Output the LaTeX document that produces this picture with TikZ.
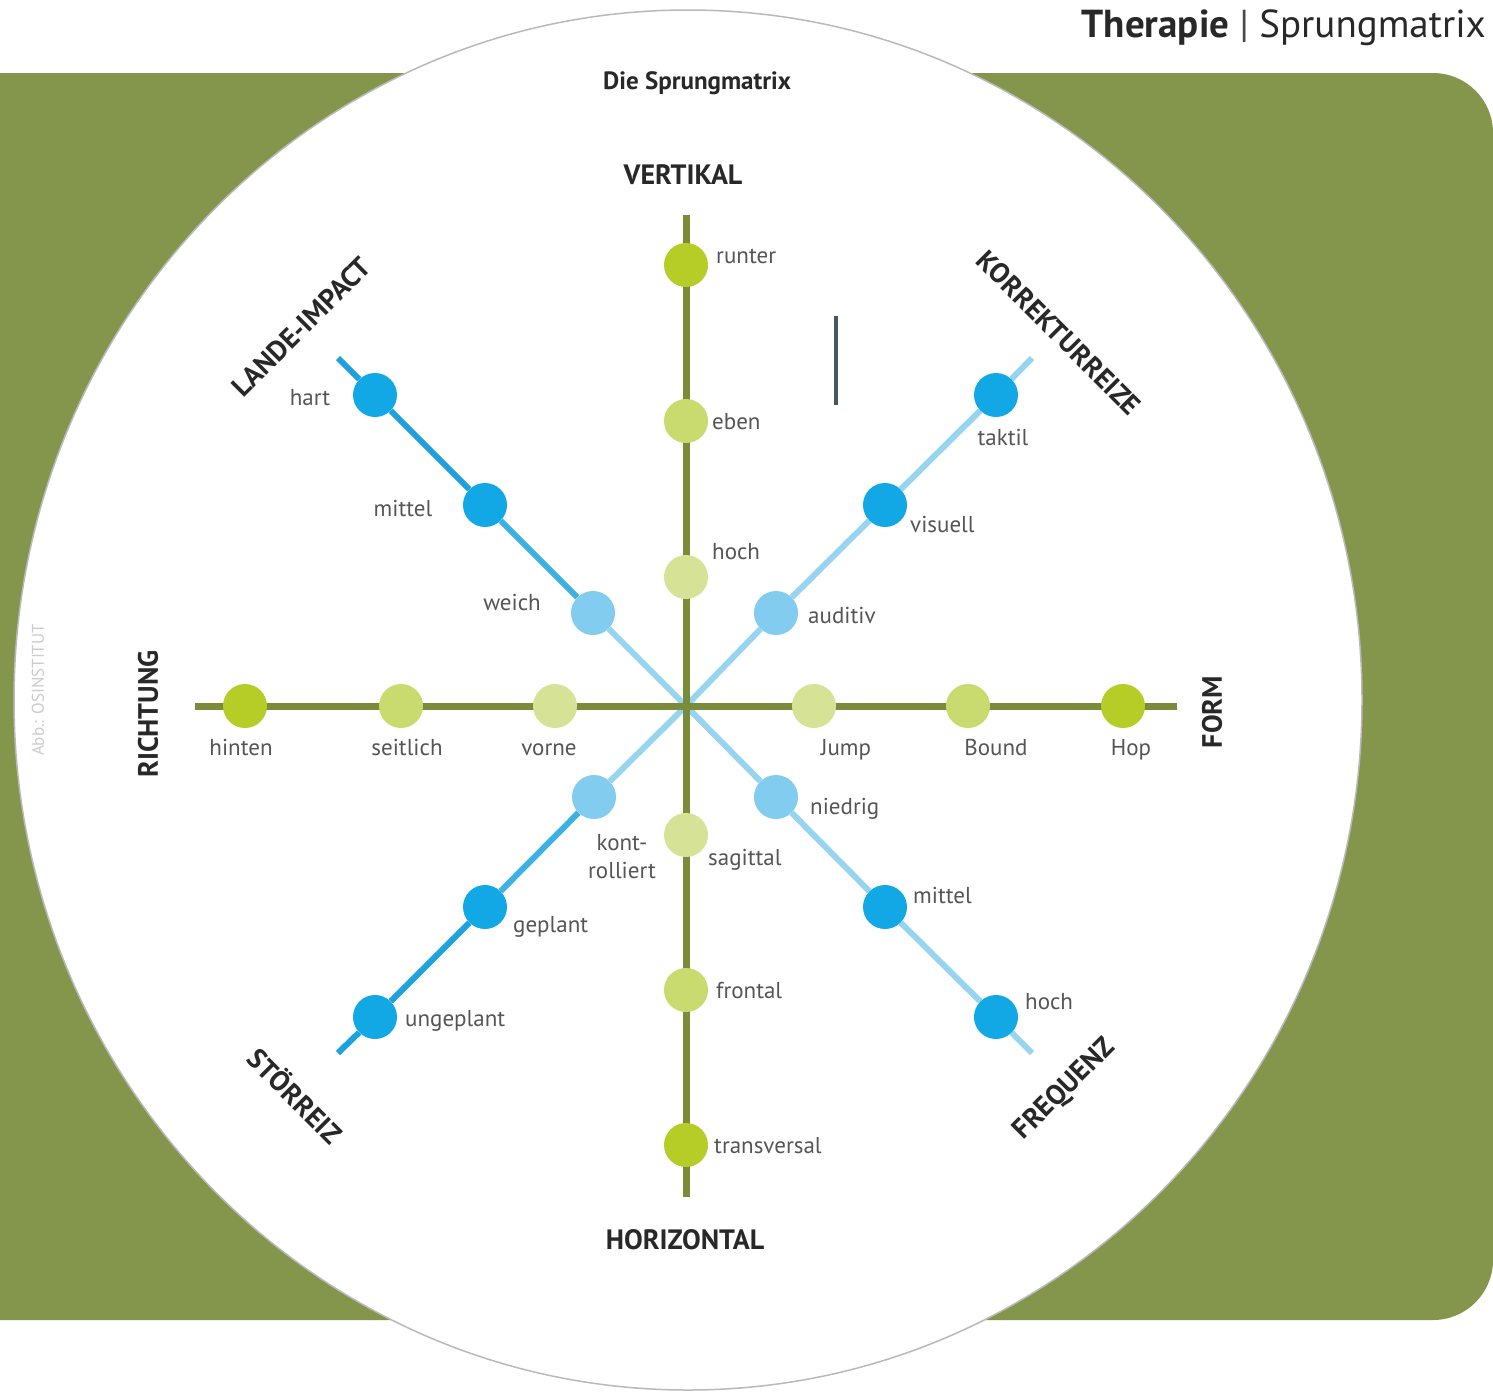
\documentclass[tikz,border=0pt]{standalone}
\usepackage{fontspec}
\setmainfont{PT Sans}
\usetikzlibrary{backgrounds}
\definecolor{bggreen}{RGB}{131,150,75}
\definecolor{axisgreen}{RGB}{122,140,58}
\definecolor{dotA}{RGB}{182,205,40}
\definecolor{dotB}{RGB}{201,219,110}
\definecolor{dotC}{RGB}{214,227,150}
\definecolor{blueA}{RGB}{18,168,230}
\definecolor{blueC}{RGB}{130,204,240}
\definecolor{lineA}{RGB}{28,162,222}
\definecolor{lineB}{RGB}{60,178,228}
\definecolor{lineC}{RGB}{150,212,240}
\definecolor{lblgray}{RGB}{85,85,85}
\definecolor{headgray}{RGB}{40,40,40}
\definecolor{markgray}{RGB}{70,88,100}
\pgfdeclarelayer{bottomlayer}
\pgfsetlayers{bottomlayer,background,main}
\tikzset{
  dot/.style={circle,minimum size=44pt,inner sep=0pt},
  gA/.style={dot,fill=dotA},
  gB/.style={dot,fill=dotB},
  gC/.style={dot,fill=dotC},
  bA/.style={dot,fill=blueA},
  bC/.style={dot,fill=blueC},
  axisline/.style={draw=axisgreen,line width=7pt},
  diagline/.style={line width=6pt},
  lbl/.style={text=lblgray,font=\fontsize{23}{25}\selectfont,inner sep=0pt,text height=16pt,text depth=5pt},
  axlbl/.style={text=headgray,font=\fontsize{28}{30}\selectfont\bfseries,inner sep=0pt},
}
\begin{document}
\begin{tikzpicture}[x=1pt,y=-1pt]
\useasboundingbox (0,0) rectangle (1493,1393);
\begin{pgfonlayer}{bottomlayer}
  \fill[white] (0,0) rectangle (1493,1393);
  \fill[bggreen,rounded corners=60pt] (-200,73) rectangle (1493,1320);
  \fill[white,draw=gray!55,line width=1.5pt] (688,700) ellipse [x radius=674, y radius=690];
\end{pgfonlayer}

% centre and axis ends
\coordinate (ctr) at (686,706);
\coordinate (vtop) at (686,215);
\coordinate (vbot) at (686,1197);
\coordinate (hleft) at (195,706);
\coordinate (hright) at (1177,706);
\coordinate (tlend) at (338,358);
\coordinate (blend) at (338,1053);
\coordinate (trend) at (1032,358);
\coordinate (brend) at (1032,1053);

% green dots
\node[gA] (runter) at (686,265) {};
\node[gB] (eben) at (686,421) {};
\node[gC] (hochV) at (686,577) {};
\node[gC] (sagittal) at (686,835) {};
\node[gB] (frontal) at (686,990) {};
\node[gA] (transversal) at (686,1145) {};
\node[gA] (hinten) at (245,706) {};
\node[gB] (seitlich) at (401,706) {};
\node[gC] (vorne) at (555,706) {};
\node[gC] (jump) at (814,706) {};
\node[gB] (bound) at (968,706) {};
\node[gA] (hop) at (1123,706) {};

% blue dots
\node[bA] (hart) at (375,395) {};
\node[bA] (mittelL) at (485,505) {};
\node[bC] (weich) at (593,613) {};
\node[bC] (kontrolliert) at (594,797) {};
\node[bA] (geplant) at (485,907) {};
\node[bA] (ungeplant) at (375,1017) {};
\node[bC] (auditiv) at (776,613) {};
\node[bA] (visuell) at (885,505) {};
\node[bA] (taktil) at (996,395) {};
\node[bC] (niedrig) at (776,797) {};
\node[bA] (mittelR) at (885,907) {};
\node[bA] (hochR) at (996,1017) {};

\begin{pgfonlayer}{background}
  % diagonals
  \draw[diagline,draw=lineA] (tlend) -- (hart);
  \draw[diagline,draw=lineA] (hart) -- (mittelL);
  \draw[diagline,draw=lineB] (mittelL) -- (weich);
  \draw[diagline,draw=lineC] (weich) -- (ctr);
  \draw[diagline,draw=lineA] (blend) -- (ungeplant);
  \draw[diagline,draw=lineA] (ungeplant) -- (geplant);
  \draw[diagline,draw=lineB] (geplant) -- (kontrolliert);
  \draw[diagline,draw=lineC] (kontrolliert) -- (ctr);
  \draw[diagline,draw=lineC] (trend) -- (taktil);
  \draw[diagline,draw=lineC] (taktil) -- (visuell);
  \draw[diagline,draw=lineC] (visuell) -- (auditiv);
  \draw[diagline,draw=lineC] (auditiv) -- (ctr);
  \draw[diagline,draw=lineC] (brend) -- (hochR);
  \draw[diagline,draw=lineC] (hochR) -- (mittelR);
  \draw[diagline,draw=lineC] (mittelR) -- (niedrig);
  \draw[diagline,draw=lineC] (niedrig) -- (ctr);
  % axes
  \draw[axisline] (vtop) -- (vbot);
  \draw[axisline] (hleft) -- (hright);
\end{pgfonlayer}

% short marker line
\coordinate (marktop) at (836,316);
\coordinate (markbot) at (836,405);
\draw[markgray,line width=4pt] (marktop) -- (markbot);

% headings
\node[text=headgray,anchor=east,inner sep=0pt,font=\fontsize{39}{41}\selectfont] (header) at (1486,28)
  {\textbf{Therapie} \textcolor{headgray!85}{|} Sprungmatrix};
\node[text=headgray,inner sep=0pt,font=\fontsize{25}{27}\selectfont\bfseries] (title) at (697,83) {Die Sprungmatrix};
\node[text=gray!40,rotate=90,inner sep=0pt,font=\fontsize{17}{18}\selectfont] (credit) at (38,690) {Abb.: OSINSTITUT};

% axis labels
\node[axlbl] (lvert) at (683,175) {VERTIKAL};
\node[axlbl] (lhor) at (685,1240) {HORIZONTAL};
\node[axlbl,rotate=90] (lricht) at (148,714) {RICHTUNG};
\node[axlbl,rotate=90] (lform) at (1212,712) {FORM};
\node[axlbl,rotate=45] (llande) at (301,327) {LANDE-IMPACT};
\node[axlbl,rotate=-45] (lkorr) at (1059,333) {KORREKTURREIZE};
\node[axlbl,rotate=-45] (lstoer) at (296,1095) {STÖRREIZ};
\node[axlbl,rotate=45] (lfreq) at (1065,1090) {FREQUENZ};

% item labels
\node[lbl,anchor=west] at (716,258) {runter};
\node[lbl,anchor=west] at (712,424) {eben};
\node[lbl,anchor=west] at (712,554) {hoch};
\node[lbl,anchor=west] at (808,618) {auditiv};
\node[lbl,anchor=west] at (910,527) {visuell};
\node[lbl] at (1003,440) {taktil};
\node[lbl] at (310,400) {hart};
\node[lbl] at (403,511) {mittel};
\node[lbl] at (512,605) {weich};
\node[lbl] at (241,750) {hinten};
\node[lbl] at (407,750) {seitlich};
\node[lbl] at (549,750) {vorne};
\node[lbl] at (846,750) {Jump};
\node[lbl] at (996,750) {Bound};
\node[lbl] at (1131,750) {Hop};
\node[lbl,anchor=north] at (622,834) {kont-};
\node[lbl,anchor=north] at (622,862) {rolliert};
\node[lbl,anchor=west] at (708,860) {sagittal};
\node[lbl,anchor=west] at (513,927) {geplant};
\node[lbl,anchor=west] at (405,1021) {ungeplant};
\node[lbl,anchor=west] at (810,809) {niedrig};
\node[lbl,anchor=west] at (913,898) {mittel};
\node[lbl,anchor=west] at (1025,1004) {hoch};
\node[lbl,anchor=west] at (716,993) {frontal};
\node[lbl,anchor=west] at (714,1148) {transversal};
\end{tikzpicture}
\end{document}
